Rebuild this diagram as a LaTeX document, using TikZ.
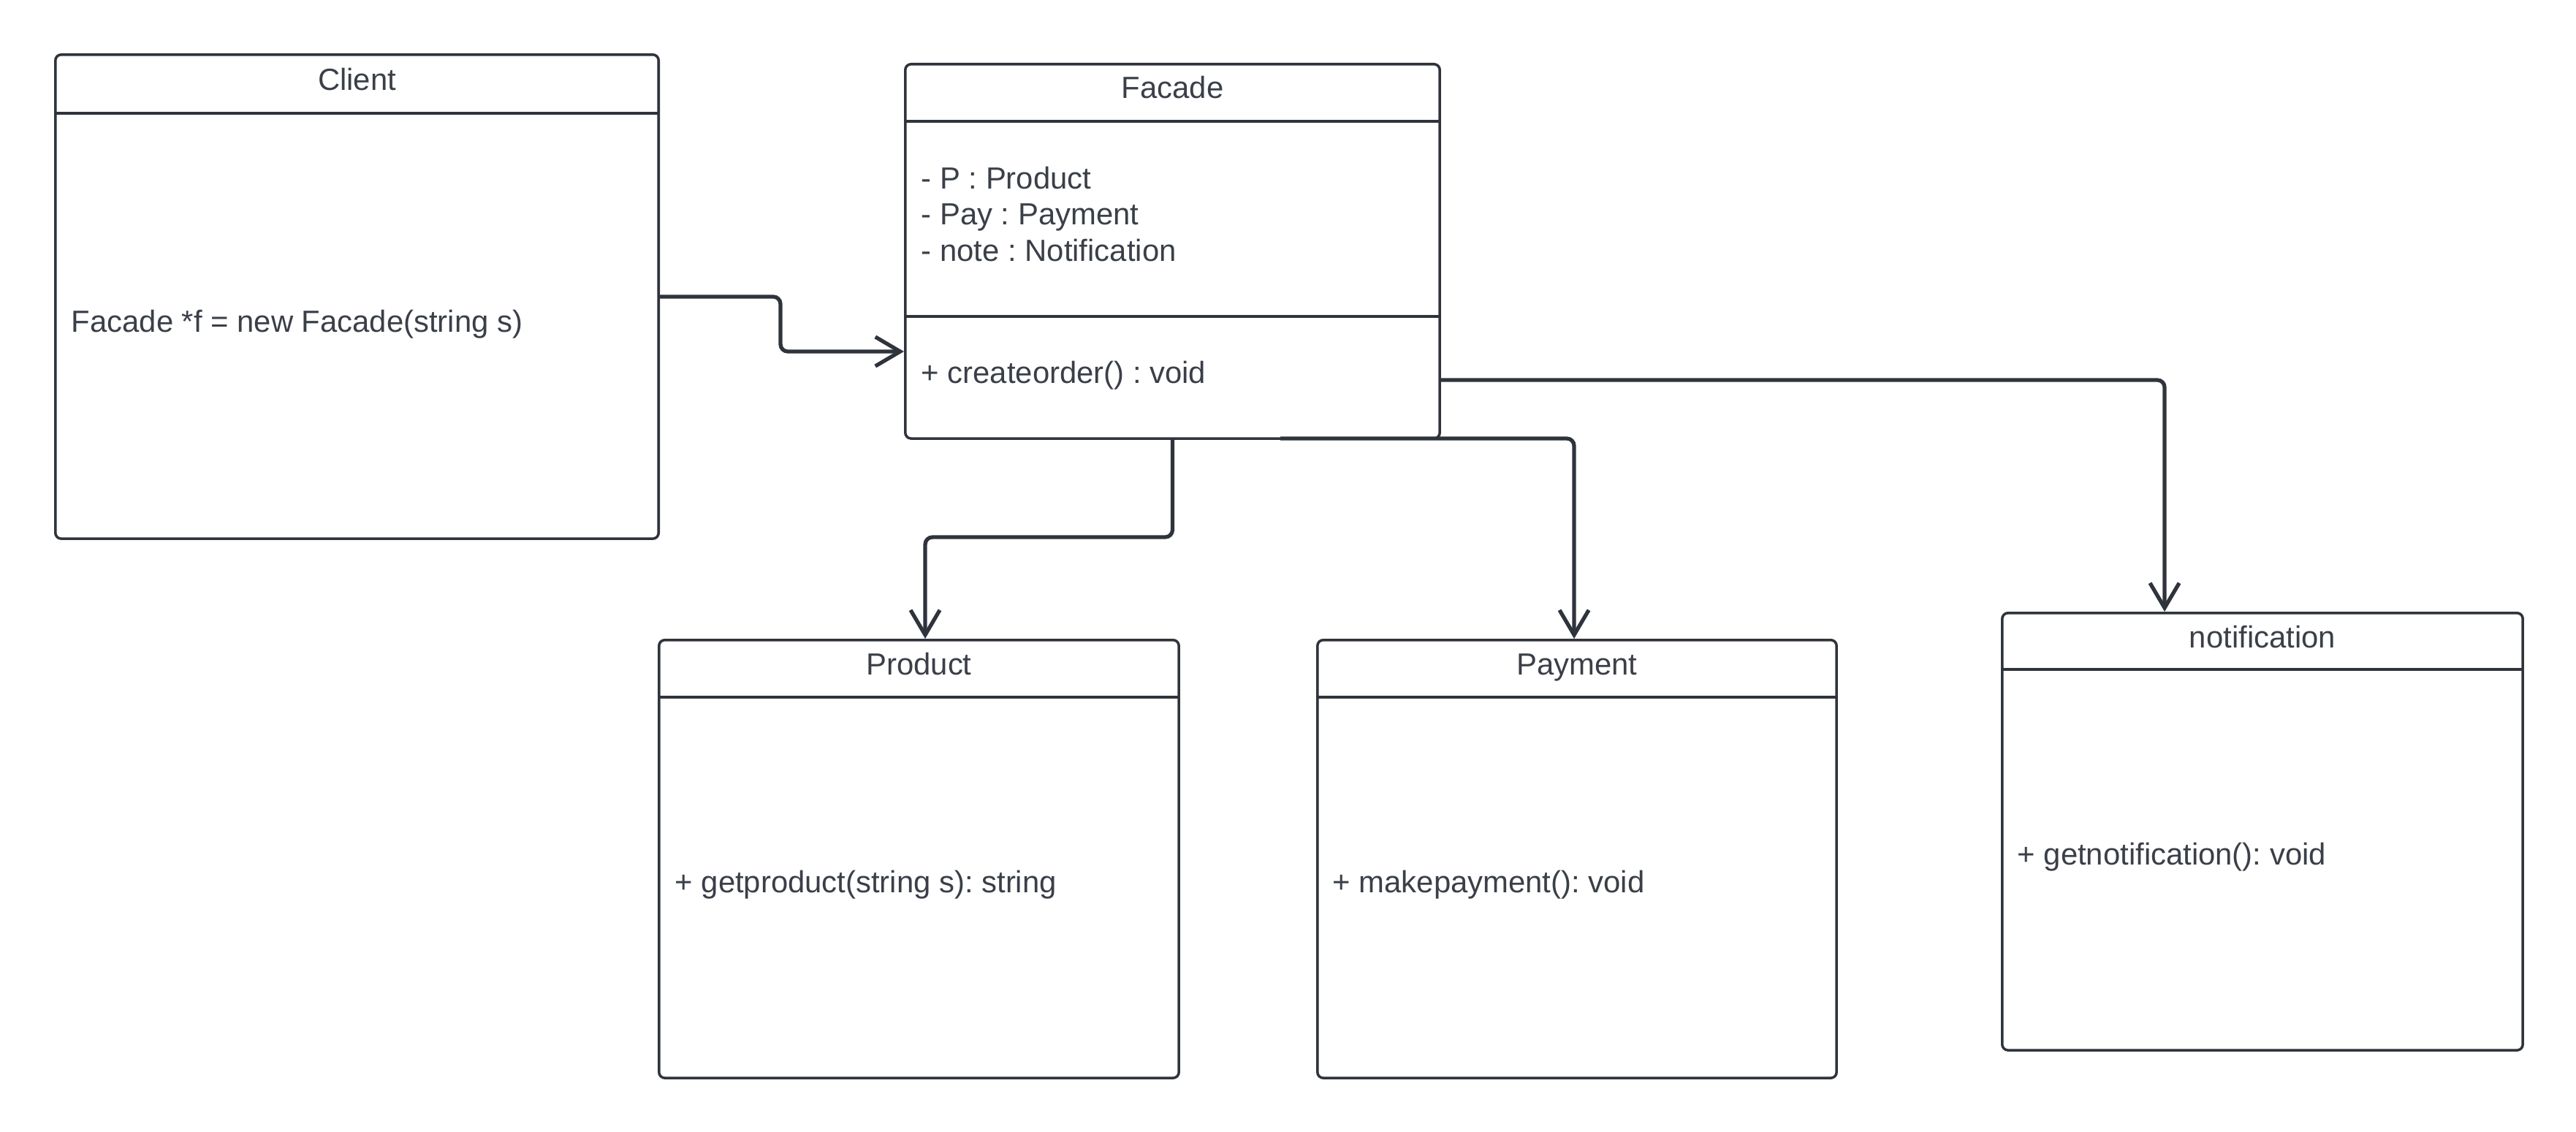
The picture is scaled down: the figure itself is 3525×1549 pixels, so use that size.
\documentclass[tikz,border=0pt]{standalone}
\usepackage{fontspec}
\setmainfont{Liberation Sans}
\usetikzlibrary{arrows.meta,calc}
\definecolor{ink}{HTML}{2F343C}
\definecolor{txt}{HTML}{3A3F48}
\frenchspacing
\begin{document}
\begin{tikzpicture}[x=0.01cm,y=-0.01cm,
  classbox/.style={draw=ink, line width=1pt, rounded corners=0.08cm,
    anchor=north west, inner sep=0pt, fill=white},
  divider/.style={draw=ink, line width=1pt},
  label/.style={text=txt, font=\fontsize{11.9pt}{14pt}\selectfont, inner sep=0pt},
  conn/.style={draw=ink, line width=1.5pt, rounded corners=0.1cm,
    -{Straight Barb[length=0.34cm,width=0.4cm]}},
]
\useasboundingbox (0,0) rectangle (3525,1549);

% class boxes
\node[classbox, minimum width=8.25cm, minimum height=6.62cm] (client) at (74,73) {};
\node[classbox, minimum width=7.31cm, minimum height=5.12cm] (facade) at (1237,86) {};
\node[classbox, minimum width=7.11cm, minimum height=5.99cm] (product) at (900,874) {};
\node[classbox, minimum width=7.10cm, minimum height=5.99cm] (payment) at (1801,874) {};
\node[classbox, minimum width=7.12cm, minimum height=5.98cm] (notification) at (2738,837) {};

% compartment lines
\draw[divider] ($(client.north west)+(0,82)$) -- ($(client.north east)+(0,82)$);
\draw[divider] ($(facade.north west)+(0,80)$) -- ($(facade.north east)+(0,80)$);
\draw[divider] ($(facade.north west)+(0,347)$) -- ($(facade.north east)+(0,347)$);
\draw[divider] ($(product.north west)+(0,80)$) -- ($(product.north east)+(0,80)$);
\draw[divider] ($(payment.north west)+(0,80)$) -- ($(payment.north east)+(0,80)$);
\draw[divider] ($(notification.north west)+(0,79)$) -- ($(notification.north east)+(0,79)$);

% class names
\node[label, anchor=base] (clientname) at ($(client.north)+(0,51)$) {Client};
\node[label, anchor=base] (facadename) at ($(facade.north)+(0,49)$) {Facade};
\node[label, anchor=base] (productname) at ($(product.north)+(0,49)$) {Product};
\node[label, anchor=base] (paymentname) at ($(payment.north)+(0,49)$) {Payment};
\node[label, anchor=base] (notificationname) at ($(notification.north)+(0,49)$) {notification};

% members
\node[label, anchor=base west] (clientbody) at (97,454) {Facade *f = new Facade(string s)};
\node[label, anchor=base west] (attrp) at (1260,259) {- P : Product};
\node[label, anchor=base west] (attrpay) at (1260,308) {- Pay : Payment};
\node[label, anchor=base west] (attrnote) at (1260,357) {- note : Notification};
\node[label, anchor=base west] (opcreate) at (1260,524) {+ createorder() : void};
\node[label, anchor=base west] (opproduct) at (923,1221) {+ getproduct(string s): string};
\node[label, anchor=base west] (oppayment) at (1823,1221) {+ makepayment(): void};
\node[label, anchor=base west] (opnotify) at (2760,1183) {+ getnotification(): void};

% associations
\coordinate (c1) at (1068,481);
\draw[conn] (client.east) -| (c1) -- (c1 -| facade.west);

\coordinate (p1) at (1266,735);
\draw[conn] (facade.south) |- (p1) -- (p1 |- product.north);

\coordinate (pay0) at (1752,600);
\coordinate (pay1) at (2154,600);
\draw[conn] (pay0) -- (pay1) -- (pay1 |- payment.north);

\coordinate (ny) at (0,520);
\coordinate (n0) at (facade.east |- ny);
\coordinate (n1) at (2962,520);
\draw[conn] (n0) -- (n1) -- (n1 |- notification.north);
\end{tikzpicture}
\end{document}
